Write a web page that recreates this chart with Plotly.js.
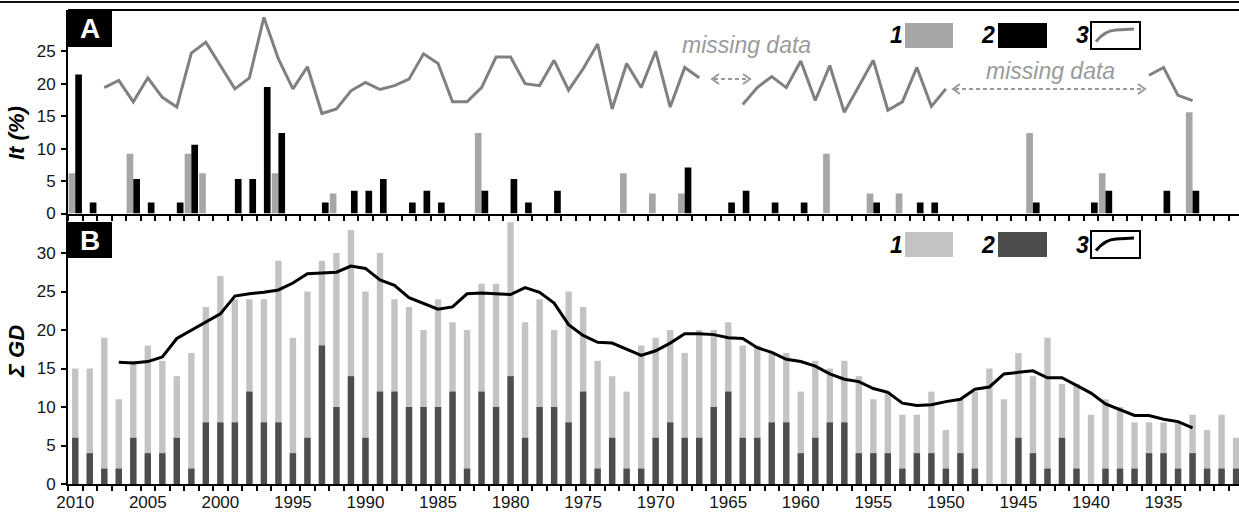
<!DOCTYPE html>
<html>
<head>
<meta charset="utf-8">
<script src="https://cdn.plot.ly/plotly-3.0.1.min.js"></script>
<style>
  html, body { margin: 0; padding: 0; background: #fff; }
  #chart { width: 1239px; height: 512px; }
</style>
</head>
<body>
<div id="chart"></div>
<script>
// ---------- DATA ----------
const years = [
  2010,2009,2008,2007,2006,2005,2004,2003,2002,2001,
  2000,1999,1998,1997,1996,1995,1994,1993,1992,1991,
  1990,1989,1988,1987,1986,1985,1984,1983,1982,1981,
  1980,1979,1978,1977,1976,1975,1974,1973,1972,1971,
  1970,1969,1968,1967,1966,1965,1964,1963,1962,1961,
  1960,1959,1958,1957,1956,1955,1954,1953,1952,1951,
  1950,1949,1948,1947,1946,1945,1944,1943,1942,1941,
  1940,1939,1938,1937,1936,1935,1934,1933,1932,1931,
  1930
];
const yearLabels = [2010,2005,2000,1995,1990,1985,1980,1975,1970,1965,1960,1955,1950,1945,1940,1935];

// Panel A: It (%)
const itSeries1 = [
  6.2,0,0,0,9.2,0,0,0,9.2,6.2,
  0,0,0,0,6.2,0,0,0,3.1,0,
  0,0,0,0,0,0,0,0,12.4,0,
  0,0,0,0,0,0,0,0,6.2,0,
  3.1,0,3.1,0,0,0,0,0,0,0,
  0,0,9.2,0,0,3.1,0,3.1,0,0,
  0,0,0,0,0,0,12.4,0,0,0,
  0,6.2,0,0,0,0,0,15.6,0,0,
  0
];
const itSeries2 = [
  21.4,1.7,0,0,5.3,1.7,0,1.7,10.6,0,
  0,5.3,5.3,19.5,12.4,0,0,1.7,0,3.5,
  3.5,5.3,0,1.7,3.5,1.7,0,0,3.5,0,
  5.3,1.7,0,3.5,0,0,0,0,0,0,
  0,0,7.1,0,0,1.7,3.5,0,1.7,0,
  1.7,0,0,0,0,1.7,0,0,1.7,1.7,
  0,0,0,0,0,0,1.7,0,0,0,
  1.7,3.5,0,0,0,3.5,0,3.5,0,0,
  0
];
const itSeries3 = [
  null,null,19.4,20.5,17.2,20.9,17.9,16.4,24.7,26.4,
  22.8,19.2,20.9,30.2,23.8,19.2,22.6,15.4,16.1,18.9,
  20.2,19.1,19.7,20.7,24.6,23.1,17.2,17.2,19.4,24.1,
  24.1,20.0,19.7,23.6,19.0,22.3,26.1,16.1,23.1,19.4,
  25.0,16.4,22.5,20.9,null,null,16.8,19.4,21.1,19.4,
  23.5,17.4,22.8,15.6,19.6,23.6,15.9,17.2,22.5,16.5,
  19.2,null,null,null,null,null,null,null,null,null,
  null,null,null,null,21.3,22.5,18.2,17.4,null,null,
  null
];

// Panel B: sum GD
const gdTotal = [
  15,15,19,11,16,18,16,14,17,23,
  27,24,24,24,29,19,25,29,30,33,
  25,30,24,23,20,24,21,20,26,26,
  34,21,24,20,25,23,16,14,12,18,
  19,20,17,20,20,21,18,18,17,17,
  12,16,15,16,14,11,12,9,9,12,
  7,11,12,15,11,17,14,19,13,13,
  9,11,10,8,8,8,8,9,7,9,
  6
];
const gdDark = [
  6,4,2,2,6,4,4,6,2,8,
  8,8,12,8,8,4,6,18,10,14,
  6,12,12,10,10,10,12,2,12,10,
  14,6,10,10,8,12,2,6,2,2,
  6,8,6,6,10,12,6,6,8,8,
  4,6,8,8,4,4,4,2,4,4,
  2,4,2,0,0,6,4,2,6,2,
  0,2,2,2,4,4,2,4,2,2,
  2
];
const gdTrend = [
  null,null,null,15.8,15.7,15.9,16.5,18.9,20.0,21.1,
  22.1,24.4,24.7,24.9,25.2,26.1,27.3,27.4,27.5,28.3,
  28.0,26.5,25.8,24.2,23.4,22.7,23.0,24.7,24.8,24.7,
  24.6,25.5,24.9,23.5,20.7,19.3,18.4,18.3,17.5,16.7,
  17.3,18.3,19.5,19.5,19.4,19.0,18.9,17.7,17.1,16.2,
  15.9,15.3,14.3,13.6,13.3,12.4,11.9,10.5,10.2,10.3,
  10.7,11.0,12.3,12.6,14.3,14.5,14.7,13.8,13.8,12.8,
  11.8,10.4,9.6,8.9,8.9,8.4,8.1,7.3,null,null,
  null
];

// ---------- LAYOUT HELPERS (pixel -> paper) ----------
const W = 1239, H = 512;
const M = {l: 68, r: 0, t: 10, b: 28};
const PW = W - M.l - M.r, PH = H - M.t - M.b;
const px = x => (x - M.l) / PW;
const py = y => (H - M.b - y) / PH;

const FONT = '"Liberation Sans", Arial, sans-serif';
const C = {
  aGray: '#a6a6a6', aBlack: '#000000', aLine: '#808080',
  bLight: '#c3c3c3', bDark: '#4d4d4d', bLine: '#000000',
  miss: '#9a9a9a'
};

const traces = [
  {type: 'bar', x: years, y: itSeries1, xaxis: 'x', yaxis: 'y',
   width: 0.46, offset: 0, marker: {color: C.aGray, line: {width: 0}}, name: '1'},
  {type: 'bar', x: years, y: itSeries2, xaxis: 'x', yaxis: 'y',
   width: 0.46, offset: -0.46, marker: {color: C.aBlack, line: {width: 0}}, name: '2'},
  {type: 'scatter', mode: 'lines', x: years, y: itSeries3, xaxis: 'x', yaxis: 'y',
   connectgaps: false, line: {color: C.aLine, width: 3}, name: '3'},
  {type: 'bar', x: years, y: gdTotal, xaxis: 'x2', yaxis: 'y2',
   width: 0.44, marker: {color: C.bLight, line: {width: 0}}, name: '1'},
  {type: 'bar', x: years, y: gdDark, xaxis: 'x2', yaxis: 'y2',
   width: 0.44, marker: {color: C.bDark, line: {width: 0}}, name: '2'},
  {type: 'scatter', mode: 'lines', x: years, y: gdTrend, xaxis: 'x2', yaxis: 'y2',
   connectgaps: false, line: {color: C.bLine, width: 3}, name: '3'}
];

const xRange = [2010.5, 1929.8];
const minorTicks = {ticks: 'outside', ticklen: 5, tickwidth: 2, tickcolor: '#000',
                    tickmode: 'linear', tick0: 0.5, dtick: 1, showgrid: false};
const tickFont = {family: FONT, size: 17, color: '#151515'};

const aTop = py(M.t), aBottom = py(213.5), bTop = py(215.5);

const layout = {
  width: W, height: H,
  margin: M,
  paper_bgcolor: '#fff', plot_bgcolor: '#fff',
  showlegend: false,
  barmode: 'overlay',
  xaxis: {domain: [0, 1], anchor: 'y', range: xRange, showline: true, linecolor: '#000', linewidth: 2,
          ticks: '', showticklabels: false, showgrid: false, zeroline: false,
          tickmode: 'array', tickvals: yearLabels, minor: minorTicks},
  xaxis2: {domain: [0, 1], anchor: 'y2', range: xRange, showline: true, linecolor: '#000', linewidth: 2,
           ticks: '', showticklabels: true, showgrid: false, zeroline: false,
           tickmode: 'array', tickvals: yearLabels, ticktext: yearLabels.map(String),
           tickfont: tickFont, ticklabelstandoff: 2, minor: minorTicks},
  yaxis: {domain: [aBottom, aTop], anchor: 'x', range: [0, 31.35], showline: true, linecolor: '#000', linewidth: 2,
          ticks: 'outside', ticklen: 5, tickwidth: 2, tickcolor: '#000',
          tickmode: 'array', tickvals: [0, 5, 10, 15, 20, 25], tickfont: tickFont, ticklabelstandoff: 2,
          showgrid: false, zeroline: false},
  yaxis2: {domain: [0, bTop], anchor: 'x2', range: [0, 34.87], showline: true, linecolor: '#000', linewidth: 2,
           ticks: 'outside', ticklen: 5, tickwidth: 2, tickcolor: '#000',
           tickmode: 'array', tickvals: [0, 5, 10, 15, 20, 25, 30], tickfont: tickFont, ticklabelstandoff: 2,
           showgrid: false, zeroline: false},
  shapes: [],
  annotations: []
};

const P = (x, y) => px(x) + ',' + py(y);
function rect(x0, y0, x1, y1, fill, lineColor, lw) {
  layout.shapes.push({type: 'rect', xref: 'paper', yref: 'paper',
    x0: px(x0), x1: px(x1), y0: py(y1), y1: py(y0),
    fillcolor: fill, line: {color: lineColor || fill, width: lw || 0}});
}
function pline(x0, y0, x1, y1, color, w, dash) {
  layout.shapes.push({type: 'line', xref: 'paper', yref: 'paper',
    x0: px(x0), x1: px(x1), y0: py(y0), y1: py(y1),
    line: {color: color, width: w, dash: dash || 'solid'}});
}
function path(d, color, w) {
  layout.shapes.push({type: 'path', xref: 'paper', yref: 'paper', path: d,
    line: {color: color, width: w}, fillcolor: 'rgba(0,0,0,0)'});
}
function text(x, y, t, opts) {
  layout.annotations.push(Object.assign({xref: 'paper', yref: 'paper', x: px(x), y: py(y),
    text: t, showarrow: false, xanchor: 'center', yanchor: 'middle'}, opts));
}

// frame lines at the top (cropped figure border)
pline(0, 2, W, 2, '#111', 2);
pline(68, 10, W, 10, '#000', 2);

// panel labels
rect(68, 10, 112, 47, '#000');
text(90, 29, 'A', {font: {family: FONT, size: 28, color: '#fff', weight: 'bold'}});
rect(68, 222, 112, 258, '#000');
text(90, 240.5, 'B', {font: {family: FONT, size: 28, color: '#fff', weight: 'bold'}});

// y-axis titles
text(16, 133, 'It (%)', {textangle: -90, font: {family: FONT, size: 22, color: '#000', weight: 'bold', style: 'italic'}});
text(16, 352, 'Σ GD', {textangle: -90, font: {family: FONT, size: 22, color: '#000', weight: 'bold', style: 'italic'}});

// legends
const legFont = {family: FONT, size: 23, color: '#000', weight: 'bold', style: 'italic'};
function legend(yc, c1, c2, c3) {
  text(896, yc, '1', {font: legFont});
  rect(905, yc - 12.5, 953, yc + 12.5, c1);
  text(988, yc, '2', {font: legFont});
  rect(998, yc - 12.5, 1047, yc + 12.5, c2);
  text(1082, yc, '3', {font: legFont});
  rect(1091, yc - 13.5, 1140, yc + 13.5, 'rgba(0,0,0,0)', '#000', 2);
  path('M ' + P(1096, yc + 6) + ' Q ' + P(1105, yc - 5) + ' ' + P(1116, yc - 5.5) + ' L ' + P(1134, yc - 6.5), c3, 3);
}
legend(35.5, C.aGray, C.aBlack, C.aLine);
legend(244.5, C.bLight, C.bDark, C.bLine);

// missing-data markers
const missFont = {family: FONT, size: 23, color: C.miss, style: 'italic'};
text(746, 45, 'missing data', {font: missFont});
text(1050, 71, 'missing data', {font: missFont});
function dblArrow(x0, x1, y) {
  pline(x0 + 2, y, x1 - 2, y, C.miss, 2, '4px,3px');
  path('M ' + P(x0 + 7, y - 5) + ' L ' + P(x0, y) + ' L ' + P(x0 + 7, y + 5), C.miss, 2);
  path('M ' + P(x1 - 7, y - 5) + ' L ' + P(x1, y) + ' L ' + P(x1 - 7, y + 5), C.miss, 2);
}
dblArrow(712, 750, 79);
dblArrow(953, 1145, 89);

Plotly.newPlot('chart', traces, layout, {staticPlot: true, displayModeBar: false});
</script>
</body>
</html>
